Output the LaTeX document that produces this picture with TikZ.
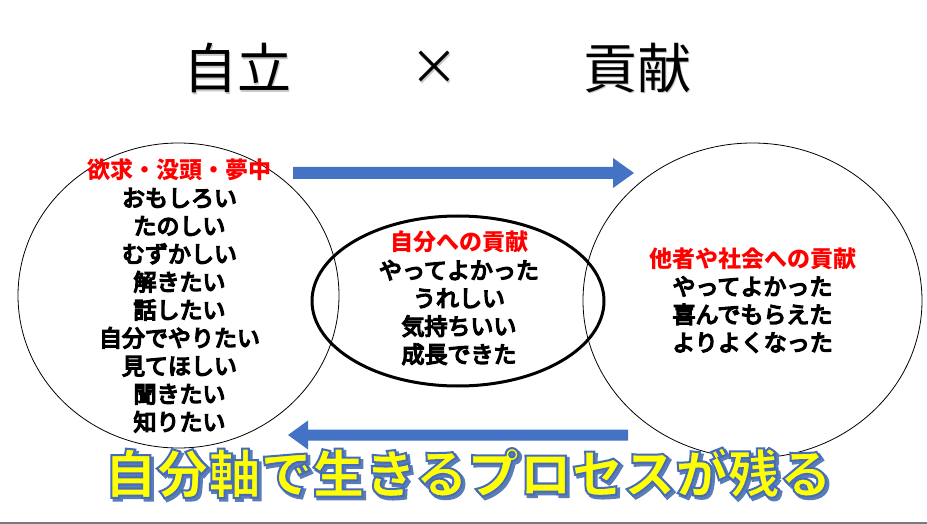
\documentclass[tikz,border=0pt]{standalone}
\usepackage{fontspec}
\newfontfamily\jp{Noto Sans CJK JP}
\usetikzlibrary{calc,shapes.geometric}
\definecolor{arrowblue}{HTML}{4472C4}
\definecolor{txtred}{HTML}{FF0000}
\definecolor{glowyellow}{HTML}{FFFF00}
\definecolor{shadowblue}{HTML}{5A7DB8}
\definecolor{linegray}{HTML}{7A7A7A}
\newcommand\slogantext{自分軸で生きるプロセスが残る}
\newcommand\strokeon[2]{\special{pdf:code q 2 Tr #1 w #2 RG}}
\newcommand\strokeoff{\special{pdf:code Q}}
\newcommand\redhead[1]{{\bfseries\textcolor{txtred}{#1}}}
\begin{document}
\begin{tikzpicture}[x=1pt,y=-1pt,
  ringthin/.style={ellipse, draw=black, line width=0.8pt, inner sep=0pt, outer sep=0pt},
  ringthick/.style={ellipse, draw=black, line width=3pt, inner sep=0pt, outer sep=0pt},
  body/.style={align=center, inner sep=0pt, font=\jp\fontsize{23}{28}\selectfont},
  titletext/.style={inner sep=0pt, font=\jp\fontsize{54}{60}\selectfont},
  bigtext/.style={inner sep=0pt, font=\jp\bfseries\fontsize{52}{56}\selectfont},
]
\useasboundingbox (0,0) rectangle (927,524);
\fill[white] (0,0) rectangle (927,524);
\fill[linegray] (0,521.5) rectangle (927,524);

% circles
\node[ringthin, minimum width=321pt, minimum height=305pt] (L) at (178.5,295.5) {};
\node[ringthin, minimum width=339pt, minimum height=315pt] (R) at (752.5,300.5) {};
\node[ringthick, minimum width=292pt, minimum height=170pt] (M) at (458,301) {};

% texts in circles
\node[body] (Ltext) at (179.5,295.5) {\redhead{欲求・没頭・夢中}\\\strokeon{1.4}{0 0 0}おもしろい\\たのしい\\むずかしい\\解きたい\\話したい\\自分でやりたい\\見てほしい\\聞きたい\\知りたい\strokeoff};
\node[body] (Mtext) at (459,298) {\redhead{自分への貢献}\\\strokeon{1.4}{0 0 0}やってよかった\\うれしい\\気持ちいい\\成長できた\strokeoff};
\node[body] (Rtext) at (752.5,300) {\redhead{他者や社会への貢献}\\\strokeon{1.4}{0 0 0}やってよかった\\喜んでもらえた\\よりよくなった\strokeoff};

% title (with faint shadow)
\node[titletext, text=black!22] (t1s) at (238.5,69.5) {自立};
\node[titletext, text=black!22, font=\jp\fontsize{48}{52}\selectfont] (t2s) at (435.5,69.5) {×};
\node[titletext, text=black!22] (t3s) at (638.5,69.5) {貢献};
\node[titletext] (t1) at (237,68) {自立};
\node[titletext, font=\jp\fontsize{48}{52}\selectfont] (t2) at (434,68) {×};
\node[titletext] (t3) at (637,68) {貢献};

% block arrows
\coordinate (a1s) at (293,173);
\coordinate (a1e) at (634,173);
\fill[arrowblue] ($(a1s)+(0,-6)$) -- ($(a1e)+(-21,-6)$) -- ($(a1e)+(-21,-15)$) -- (a1e)
  -- ($(a1e)+(-21,15)$) -- ($(a1e)+(-21,6)$) -- ($(a1s)+(0,6)$) -- cycle;
\coordinate (a2s) at (628,435);
\coordinate (a2e) at (288,435);
\fill[arrowblue] ($(a2s)+(0,-5.5)$) -- ($(a2e)+(20,-5.5)$) -- ($(a2e)+(20,-14.5)$) -- (a2e)
  -- ($(a2e)+(20,14.5)$) -- ($(a2e)+(20,5.5)$) -- ($(a2s)+(0,5.5)$) -- cycle;

% slogan with outline and shadow
\coordinate (sl) at (468,473);
\node[bigtext, text=shadowblue] (slshadow) at ($(sl)+(2.5,2.5)$) {\strokeon{2.4}{0.353 0.49 0.72}\slogantext\strokeoff};
\node[bigtext, text=glowyellow] (slogan) at (sl) {\strokeon{2}{0.27 0.42 0.74}\slogantext\strokeoff};
\end{tikzpicture}
\end{document}
